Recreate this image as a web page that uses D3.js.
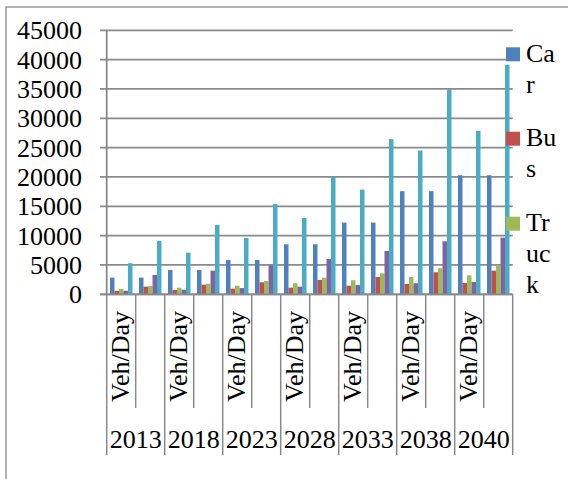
<!DOCTYPE html>
<html>
<head>
<meta charset="utf-8">
<script src="https://cdn.jsdelivr.net/npm/d3@7"></script>
<style>
  html, body { margin: 0; padding: 0; background: #fff; }
  svg { display: block; }
  text { font-family: "Liberation Serif", "Times New Roman", serif; fill: #000; }
</style>
</head>
<body>
<svg id="chart" width="568" height="479"></svg>
<script>
// ---- data ----
const years = ["2013", "2018", "2023", "2028", "2033", "2038", "2040"];
const subLabels = ["Veh/Day", ""];
const seriesNames = ["Car", "Bus", "Truck", "Series4", "Series5"];
const legendLines = [["Ca", "r"], ["Bu", "s"], ["Tr", "uc", "k"]];
const colors = ["#4F81BD", "#C0504D", "#9BBB59", "#8064A2", "#4BACC6"];
// values per group (14 groups: each year x 2 sub-categories)
const car    = [2850, 2850, 4150, 4150, 5850, 5850, 8530, 8530, 12220, 12220, 17580, 17580, 20300, 20300];
const bus    = [600, 1300, 730, 1640, 960, 2050, 1130, 2440, 1470, 2950, 1760, 3750, 1930, 4030];
const truck  = [900, 1400, 1130, 1800, 1470, 2270, 1880, 2830, 2390, 3580, 2950, 4440, 3240, 4880];
const series4 = [600, 3300, 780, 4030, 1060, 4950, 1300, 6020, 1590, 7390, 1880, 9040, 2100, 9660];
const series5 = [5300, 9100, 7100, 11830, 9600, 15400, 13020, 20020, 17850, 26450, 24500, 34920, 27870, 39130];
const yTicks = [0, 5000, 10000, 15000, 20000, 25000, 30000, 35000, 40000, 45000];

const allSeries = [car, bus, truck, series4, series5];
const groups = [];
years.forEach(y => subLabels.forEach((s, j) => groups.push({ year: y, sub: s, idx: groups.length })));

// ---- layout ----
const svg = d3.select("#chart");
const fontSize = 26;
const gridColor = "#8a8a8a";

const x0 = d3.scaleBand().domain(groups.map(g => g.idx)).range([106.7, 512.7]).padding(0);
const x1 = d3.scaleBand().domain(seriesNames).range([3.3, 25.8]).padding(0);
const y = d3.scaleLinear().domain([0, 45000]).range([294.3, 30.3]);

// outer border
svg.append("path")
  .attr("d", "M6,479 L6,7 L568,7")
  .attr("fill", "none").attr("stroke", "#9a9a9a").attr("stroke-width", 1.5);

// gridlines + tick marks
svg.append("g").selectAll("line").data(yTicks).join("line")
  .attr("x1", 100).attr("x2", 512.7)
  .attr("y1", d => y(d)).attr("y2", d => y(d))
  .attr("stroke", gridColor).attr("stroke-width", 1.8);

// y tick labels
svg.append("g").selectAll("text").data(yTicks).join("text")
  .attr("x", 82).attr("y", d => y(d) + 9)
  .attr("text-anchor", "end")
  .attr("font-size", fontSize)
  .text(d => d);

// y axis line
svg.append("line")
  .attr("x1", 106.7).attr("x2", 106.7).attr("y1", y(45000)).attr("y2", y(0))
  .attr("stroke", gridColor).attr("stroke-width", 1.8);

// bars
const barG = svg.append("g");
allSeries.forEach((vals, si) => {
  barG.append("g").selectAll("rect").data(groups).join("rect")
    .attr("x", g => x0(g.idx) + x1(seriesNames[si]))
    .attr("width", x1.bandwidth())
    .attr("y", g => y(vals[g.idx]))
    .attr("height", g => y(0) - y(vals[g.idx]))
    .attr("fill", colors[si]);
});

// x axis baseline
svg.append("line")
  .attr("x1", 100).attr("x2", 512.7).attr("y1", y(0)).attr("y2", y(0))
  .attr("stroke", gridColor).attr("stroke-width", 1.8);

// category dividers
const boundaries = d3.range(groups.length + 1);
svg.append("g").selectAll("line").data(boundaries).join("line")
  .attr("x1", i => i < groups.length ? x0(i) : x0(groups.length - 1) + x0.bandwidth())
  .attr("x2", i => i < groups.length ? x0(i) : x0(groups.length - 1) + x0.bandwidth())
  .attr("y1", y(0))
  .attr("y2", i => i % 2 === 0 ? 455 : 408)
  .attr("stroke", gridColor).attr("stroke-width", 1.5);

// sub-category labels (rotated)
svg.append("g").selectAll("text").data(groups.filter(g => g.sub !== "")).join("text")
  .attr("transform", g => `translate(${x0(g.idx) + x0.bandwidth() / 2 + 8},311) rotate(-90)`)
  .attr("text-anchor", "end")
  .attr("font-size", fontSize)
  .text(g => g.sub);

// year labels
svg.append("g").selectAll("text").data(years).join("text")
  .attr("x", (d, i) => x0(i * 2) + x0.bandwidth())
  .attr("y", 448.3)
  .attr("text-anchor", "middle")
  .attr("font-size", fontSize)
  .text(d => d);

// legend (clipped in the original: only first three entries visible)
const legendTop = [47.3, 131.7, 216.7];
legendLines.forEach((lines, i) => {
  svg.append("rect")
    .attr("x", 506).attr("y", legendTop[i]).attr("width", 14).attr("height", 14)
    .attr("fill", colors[i]);
  const t = svg.append("text").attr("font-size", fontSize);
  lines.forEach((ln, k) => {
    t.append("tspan").attr("x", 526).attr("y", legendTop[i] + 14.7 + k * 30.7).text(ln);
  });
});
</script>
</body>
</html>
